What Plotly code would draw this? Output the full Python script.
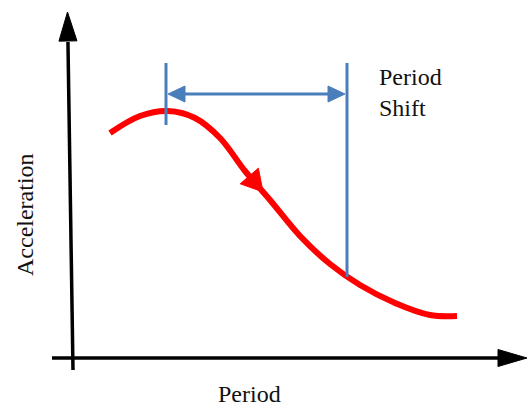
import numpy as np
import plotly.graph_objects as go

# ---- data (diagram units: x = period, y = acceleration, y measured downward from top) ----
curve_period = [110, 140, 168, 195, 220, 245, 270, 300, 330, 360, 395, 430, 457]
curve_accel = [133, 116, 111, 118, 138, 171, 200, 236, 264, 285, 303, 315, 316]

arrow_tip_period = 263          # where the red direction arrow sits on the curve

yaxis_x = [73, 67.5]            # bottom, top of vertical axis
yaxis_y = [370, 12]
xaxis_x = [52, 527]
xaxis_y = [358, 358]

shift_left = 166
shift_right = 347
shift_top = 63
shift_arrow_y = 94
shift_left_bottom = 125
shift_right_bottom = 277

labels = {"x": "Period", "y": "Acceleration", "shift": "Period<br>Shift"}

RED = "#FF0000"
BLUE = "#4A7EBB"
BLACK = "#000000"
FONT = "Liberation Serif"


def head(tip, direction, length, half_w):
    d = np.array(direction, float)
    d = d / np.linalg.norm(d)
    n = np.array([-d[1], d[0]])
    t = np.array(tip, float)
    b = t - d * length
    p1 = b + n * half_w
    p2 = b - n * half_w
    return [t[0], p1[0], p2[0], t[0]], [t[1], p1[1], p2[1], t[1]], b


fig = go.Figure()


def add_line(xs, ys, color, width, shape="linear"):
    fig.add_trace(go.Scatter(x=xs, y=ys, mode="lines", line=dict(color=color, width=width, shape=shape),
                             hoverinfo="skip", showlegend=False))


def add_poly(xs, ys, color):
    fig.add_trace(go.Scatter(x=xs, y=ys, mode="lines", fill="toself", fillcolor=color,
                             line=dict(color=color, width=1), hoverinfo="skip", showlegend=False))


# axes
hx, hy, base = head((yaxis_x[1], yaxis_y[1]), (yaxis_x[1] - yaxis_x[0], yaxis_y[1] - yaxis_y[0]), 29, 9)
add_line([yaxis_x[0], base[0]], [yaxis_y[0], base[1] + 1], BLACK, 3.5)
add_poly(hx, hy, BLACK)

hx, hy, base = head((xaxis_x[1], xaxis_y[1]), (1, 0), 29, 8.5)
add_line([xaxis_x[0], base[0] + 1], [xaxis_y[0], base[1]], BLACK, 3.5)
add_poly(hx, hy, BLACK)

# red curve
add_line(curve_period, curve_accel, RED, 6, shape="spline")
cp = np.array(curve_period, float)
ca = np.array(curve_accel, float)
ty = np.interp(arrow_tip_period, cp, ca)
dy = np.interp(arrow_tip_period + 3, cp, ca) - np.interp(arrow_tip_period - 3, cp, ca)
hx, hy, _ = head((arrow_tip_period, ty), (6, dy), 21, 12)
add_poly(hx, hy, RED)

# blue period-shift marker
add_line([shift_left, shift_left], [shift_top, shift_left_bottom], BLUE, 3)
add_line([shift_right, shift_right], [shift_top, shift_right_bottom], BLUE, 3)
add_line([shift_left + 15, shift_right - 15], [shift_arrow_y, shift_arrow_y], BLUE, 3)
hx, hy, _ = head((shift_left + 2, shift_arrow_y), (-1, 0), 17, 8)
add_poly(hx, hy, BLUE)
hx, hy, _ = head((shift_right - 2, shift_arrow_y), (1, 0), 17, 8)
add_poly(hx, hy, BLUE)

# texts
fig.add_annotation(x=249, y=408, text=labels["x"], showarrow=False, borderpad=0,
                   font=dict(family=FONT, size=24, color="#111"), xanchor="center", yanchor="bottom")
fig.add_annotation(x=25, y=215, text=labels["y"], showarrow=False, textangle=-90,
                   font=dict(family=FONT, size=24, color="#111"), xanchor="center", yanchor="middle")
fig.add_annotation(x=377, y=92, text=labels["shift"], showarrow=False, align="left",
                   font=dict(family=FONT, size=24, color="#111"), xanchor="left", yanchor="middle")

fig.update_layout(
    width=527, height=408,
    margin=dict(l=0, r=0, t=0, b=0),
    paper_bgcolor="white", plot_bgcolor="white",
    xaxis=dict(range=[0, 527], visible=False, fixedrange=True),
    yaxis=dict(range=[408, 0], visible=False, fixedrange=True),
    showlegend=False,
)

fig.write_html("out.html", config={"displayModeBar": False},
               post_script="document.body.style.margin='0';document.body.style.overflow='hidden';")
